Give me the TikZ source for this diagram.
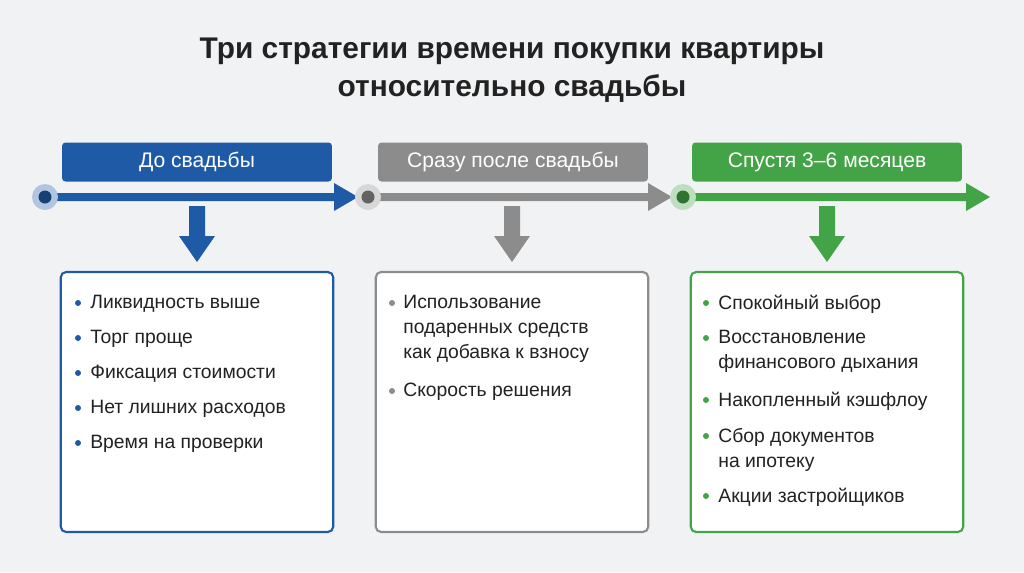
\documentclass[tikz,border=0pt]{standalone}
\usepackage{fontspec}
\setmainfont{Liberation Sans}
\usetikzlibrary{positioning}
\definecolor{bgc}{HTML}{F1F2F4}
\definecolor{blu}{HTML}{1F5AA6}
\definecolor{gry}{HTML}{8C8C8C}
\definecolor{grn}{HTML}{43A447}
\definecolor{txt}{HTML}{222222}
\tikzset{
  head/.style={fill=#1,rounded corners=2pt,minimum width=5.4cm,minimum height=0.78cm,text=white,font=\fontsize{12}{13}\selectfont},
  card/.style={draw=#1,line width=1.2pt,fill=white,rounded corners=3pt,minimum width=5.45cm,minimum height=5.2cm},
  item/.style={anchor=north west,text=txt,font=\fontsize{11}{14.2}\selectfont,align=left,inner sep=0pt},
  dot/.style={circle,fill=#1,inner sep=0pt,minimum size=0.12cm},
}
\begin{document}
\begin{tikzpicture}[x=0.02cm,y=-0.02cm]
  \fill[bgc] (0,0) rectangle (1024,572); %canvas
  \node[font=\bfseries\fontsize{17}{21.5}\selectfont,align=center,text=txt] (title) at (512,70)
    {Три стратегии времени покупки квартиры\\относительно свадьбы};

  % headers
  \node[head=blu] (h1) at (197,162) {До свадьбы};
  \node[head=gry] (h2) at (513,162) {Сразу после свадьбы};
  \node[head=grn] (h3) at (827,162) {Спустя 3–6 месяцев};

  % timeline segments
  \foreach \c/\xa/\xb/\n in {blu/45/358/1, gry/368/672/2, grn/683/990/3} {
    \coordinate (s\n) at (\xa,197);
    \coordinate (e\n) at (\xb,197);
    \fill[\c] (\xa,193) -- (\xb-24,193) -- (\xb-24,183) -- (\xb,197) -- (\xb-24,211) -- (\xb-24,201) -- (\xa,201) -- cycle;
    \fill[\c!35!white] (s\n) circle (13);
    \fill[\c!70!black] (s\n) circle (6.5);
  }

  % down arrows
  \foreach \c/\x in {blu/197, gry/512, grn/827}
    \fill[\c] (\x-8,206) -- (\x+8,206) -- (\x+8,236) -- (\x+18,236) -- (\x,262) -- (\x-18,236) -- (\x-8,236) -- cycle;

  % cards
  \node[card=blu] (c1) at (197,402) {};
  \node[card=gry] (c2) at (512,402) {};
  \node[card=grn] (c3) at (827,402) {};

  \foreach \t [count=\i] in {Ликвидность выше, Торг проще, Фиксация стоимости, Нет лишних расходов, Время на проверки} {
    \node[dot=blu] at (78,303+35*\i-35) {};
    \node[item] at (90,295+35*\i-35) {\t};
  }

  \node[dot=gry] at (392,303) {};
  \node[item] at (403,295) {Использование\\подаренных средств\\как добавка к взносу};
  \node[dot=gry] at (392,391) {};
  \node[item] at (403,383) {Скорость решения};

  \foreach \y/\t in {303/Спокойный выбор, 338/Восстановление\\финансового дыхания, 400/Накопленный кэшфлоу, 436/Сбор документов\\на ипотеку, 496/Акции застройщиков} {
    \node[dot=grn] at (706,\y) {};
    \node[item] at (718,\y-8) {\t};
  }
\end{tikzpicture}
\end{document}
